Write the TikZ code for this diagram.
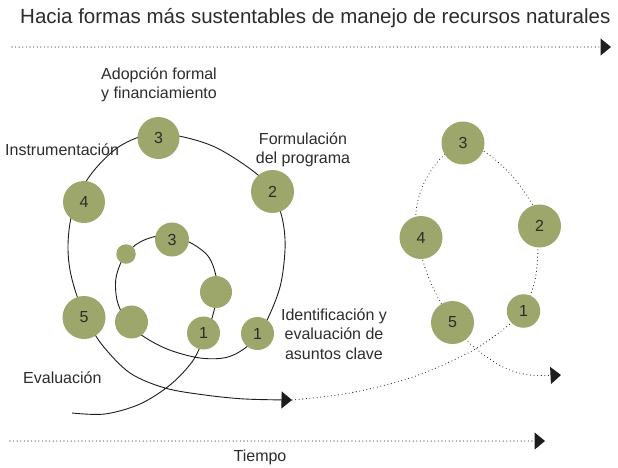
\documentclass[tikz,border=0pt]{standalone}
\usepackage{fontspec}
\setmainfont{Liberation Sans}
\usetikzlibrary{arrows.meta}
\definecolor{discgreen}{RGB}{157,166,107}
\definecolor{txt}{RGB}{45,43,43}
\definecolor{ink}{RGB}{30,28,28}
\begin{document}
\begin{tikzpicture}[x=1pt,y=-1pt,
  disc/.style={circle, fill=discgreen, inner sep=0pt, minimum size=#1, text=txt, font=\fontsize{16}{16}\selectfont},
  lbl/.style={text=txt, align=center, inner sep=0pt, font=\fontsize{16}{19.5}\selectfont},
  solidline/.style={draw=ink, line width=0.9pt},
  dotline/.style={draw=ink, line width=1.1pt, dash pattern=on 0pt off 3.6pt, line cap=round},
  tip/.style={-{Triangle[length=10.5pt,width=17pt]}}
]
\useasboundingbox (0,0) rectangle (618,467);

% title and time axes
\node[lbl, anchor=base west, font=\fontsize{20.5}{24}\selectfont] (title) at (20,23.5) {Hacia formas más sustentables de manejo de recursos naturales};
\coordinate (topL) at (12,47);
\coordinate (topR) at (611,47);
\draw[dotline, tip] (topL) -- (topR);
\coordinate (botL) at (10,441);
\coordinate (botR) at (545,441);
\draw[dotline, tip] (botL) -- (botR);
\node[lbl] (tiempo) at (260,457) {Tiempo};

% spiral (solid)
\coordinate (sStart) at (72,413);
\coordinate (sEnd) at (292,400);
\draw[solidline, tip] plot[smooth, tension=0.55] coordinates {
 (sStart) (105,414) (140,404) (170,385) (192,362) (203,340) (212,318) (217,295) (216,276) (208,256)
 (189,242) (165,235) (140,242) (124,257) (116,278) (117,300) (125,318) (140,334) (167,349)
 (200,358) (228,357) (250,344) (266,322) (280,287) (285,250) (283,222) (275,198) (258,175)
 (217,148) (179,136) (150,134) (120,146) (96,168) (80,192) (71,218) (68,245) (70,270) (77,296)
 (88,322) (103,346) (130,373) (165,388) (205,395) (245,399) (sEnd)};

% continuation (dotted)
\coordinate (dEnd) at (561,375);
\draw[dotline, tip] plot[smooth, tension=0.55] coordinates {
 (sEnd) (350,393) (413,377) (470,352) (505,328) (523,311) (535,280) (538,245) (536,212) (513,177)
 (485,152) (463,145) (441,158) (424,183) (416,212) (419,245) (428,276) (442,305) (460,333)
 (480,352) (505,368) (530,375) (dEnd)};

% discs of the spiral
\node[disc=42] (o3) at (158.5,138) {3};
\node[disc=43] (o2) at (272.5,191.5) {2};
\node[disc=42] (o4) at (84,202) {4};
\node[disc=43] (o5) at (84,317.5) {5};
\node[disc=33] (o1) at (257.5,333.5) {1};
\node[disc=33] (i1) at (203.5,333) {1};
\node[disc=32] (iR) at (216,292) {};
\node[disc=33] (iL) at (131.5,322) {};
\node[disc=34] (i3) at (172,239.5) {3};
\node[disc=19.5] (iT) at (126,254) {};

% discs of the second cycle
\node[disc=43] (r3) at (463,143) {3};
\node[disc=43] (r2) at (539.5,226) {2};
\node[disc=43] (r4) at (421,237.5) {4};
\node[disc=43] (r5) at (452.5,322.5) {5};
\node[disc=33.5] (r1) at (523.5,311) {1};

% labels
\node[lbl] (adop) at (159,85) {Adopción formal\\y financiamiento};
\node[lbl, anchor=west] (instr) at (5,150) {Instrumentación};
\node[lbl] (formul) at (303,150) {Formulación\\del programa};
\node[lbl] (ident) at (334,334) {Identificación y\\evaluación de\\asuntos clave};
\node[lbl, anchor=west] (eval) at (23,378) {Evaluación};
\end{tikzpicture}
\end{document}
